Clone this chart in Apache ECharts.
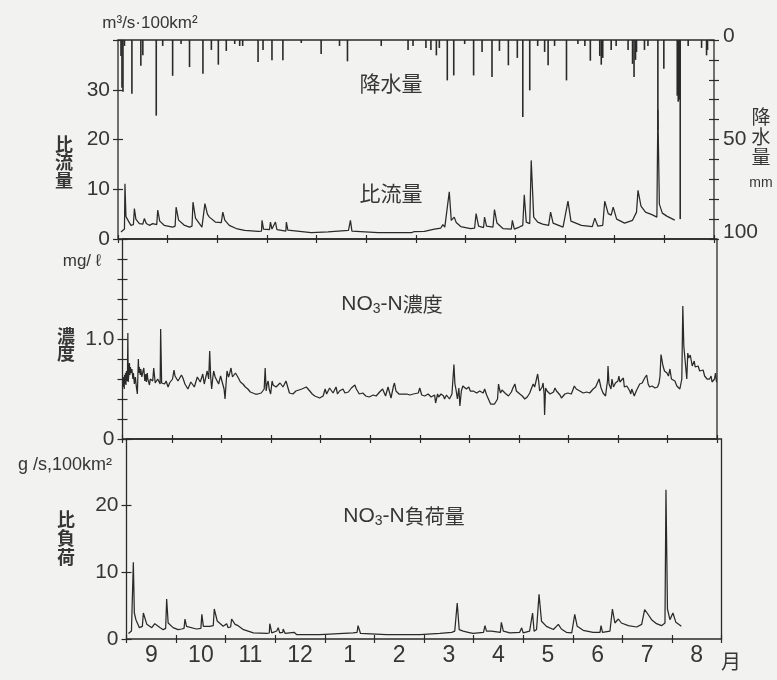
<!DOCTYPE html>
<html>
<head>
<meta charset="utf-8">
<script src="https://cdn.jsdelivr.net/npm/echarts@6/dist/echarts.min.js"></script>
<style>
  html, body { margin: 0; padding: 0; background: #f2f2f0; }
  #chart { width: 777px; height: 680px; }
</style>
</head>
<body>
<div id="chart"></div>
<script>
// Time axis runs in months from 1 September (0) to the end of August (12).
const months = ['9', '10', '11', '12', '1', '2', '3', '4', '5', '6', '7', '8'];

// Daily rainfall, mm  [month position, mm]
const rainfall = [
  [0.06, 8], [0.08, 24], [0.10, 26], [0.13, 3], [0.28, 27], [0.46, 13], [0.50, 7.7], [0.77, 38],
  [0.90, 3], [1.10, 18], [1.27, 2], [1.44, 13.6], [1.71, 17], [1.88, 5], [2.02, 12.4], [2.18, 5.5],
  [2.35, 2], [2.45, 3], [2.51, 3], [2.82, 11], [2.92, 5], [3.10, 10.2], [3.32, 10.2], [3.69, 1.5],
  [4.09, 7], [4.46, 3], [4.62, 10.7], [5.30, 3], [5.84, 5], [5.94, 3], [6.20, 4], [6.30, 5],
  [6.41, 7.7], [6.47, 4], [6.63, 20.3], [6.76, 17.8], [6.98, 2], [7.16, 17.8], [7.33, 6], [7.53, 18.6],
  [7.68, 5.5], [7.86, 12.7], [8.04, 9], [8.15, 38.7], [8.29, 25.3], [8.45, 3], [8.59, 6], [8.66, 12.7],
  [8.79, 3], [9.03, 20.3], [9.26, 2], [9.40, 3], [9.51, 10.4], [9.70, 8], [9.73, 12.4], [9.76, 9],
  [9.93, 5], [10.03, 3], [10.27, 5], [10.36, 12], [10.39, 18.6], [10.42, 10], [10.44, 6], [10.60, 5],
  [10.67, 3], [10.87, 45], [10.99, 14.4], [11.26, 28], [11.28, 31], [11.30, 30], [11.32, 90], [11.48, 3],
  [11.75, 4], [11.85, 7.7], [11.87, 5]
];

// Specific discharge, m3/s per 100 km2
const flow = [
  [0.06, 1.4], [0.13, 2.0], [0.14, 11.1], [0.16, 4.5], [0.18, 4.1], [0.26, 2.75], [0.31, 2.9], [0.33, 6.1],
  [0.36, 4.0], [0.43, 3.1], [0.50, 3.0], [0.53, 4.1], [0.57, 3.1], [0.63, 2.75], [0.70, 3.1], [0.78, 2.9],
  [0.80, 5.8], [0.84, 3.6], [0.93, 2.75], [1.10, 2.4], [1.15, 2.6], [1.17, 6.4], [1.22, 3.8], [1.33, 2.8],
  [1.44, 2.4], [1.49, 2.6], [1.51, 7.4], [1.56, 4.2], [1.69, 2.4], [1.73, 2.7], [1.75, 7.1], [1.80, 5.0],
  [1.84, 4.4], [1.96, 3.4], [2.08, 3.3], [2.11, 5.4], [2.15, 3.8], [2.18, 3.4], [2.24, 2.75], [2.38, 2.1],
  [2.55, 1.74], [2.82, 1.54], [2.89, 1.6], [2.90, 3.75], [2.93, 2.0], [2.95, 1.9], [3.05, 1.9], [3.07, 3.4],
  [3.10, 2.0], [3.12, 1.9], [3.17, 3.4], [3.20, 1.9], [3.22, 1.74], [3.38, 1.6], [3.39, 3.4], [3.42, 1.8],
  [3.45, 1.54], [3.89, 1.27], [4.23, 1.41], [4.64, 1.74], [4.68, 3.75], [4.71, 1.6], [4.73, 1.41], [5.24, 1.27],
  [5.91, 1.27], [5.97, 1.5], [6.17, 1.54], [6.37, 2.0], [6.50, 2.2], [6.54, 2.9], [6.58, 2.4], [6.62, 2.6],
  [6.67, 9.5], [6.71, 3.75], [6.77, 4.4], [6.81, 3.3], [6.90, 2.5], [7.10, 2.1], [7.18, 2.2], [7.21, 5.1],
  [7.26, 2.6], [7.36, 2.3], [7.38, 4.4], [7.42, 2.6], [7.55, 2.4], [7.58, 5.9], [7.63, 3.2], [7.75, 2.1],
  [7.92, 2.0], [7.94, 3.75], [7.98, 2.0], [8.08, 2.4], [8.15, 2.75], [8.18, 8.9], [8.22, 3.4], [8.29, 3.1],
  [8.32, 15.8], [8.37, 4.4], [8.45, 3.4], [8.55, 3.0], [8.67, 2.75], [8.71, 5.4], [8.76, 3.2], [8.96, 2.4],
  [9.06, 7.6], [9.12, 3.6], [9.33, 2.75], [9.55, 2.5], [9.60, 4.2], [9.66, 2.6], [9.76, 2.75], [9.80, 7.6],
  [9.87, 5.1], [9.93, 4.8], [9.97, 6.4], [10.04, 4.0], [10.20, 3.2], [10.36, 3.75], [10.44, 5.4], [10.47, 9.8],
  [10.53, 6.6], [10.62, 5.4], [10.75, 4.9], [10.85, 4.4], [10.87, 26], [10.90, 7.0], [10.96, 5.2], [11.05, 4.6],
  [11.07, 5.0], [11.21, 3.8]
];

// NO3-N concentration, mg/L
const nitrate = [
  [0.01, 0.53], [0.015, 0.62], [0.02, 0.52], [0.03, 0.60], [0.035, 0.50], [0.04, 0.64], [0.05, 0.55], [0.06, 0.66],
  [0.07, 0.54], [0.08, 0.68], [0.09, 0.58], [0.10, 0.62], [0.108, 1.06], [0.115, 0.57], [0.13, 0.66], [0.14, 0.76],
  [0.15, 0.64], [0.16, 0.72], [0.175, 0.66], [0.19, 0.70], [0.21, 0.60], [0.22, 0.66], [0.24, 0.55], [0.26, 0.62],
  [0.28, 0.52], [0.30, 0.45], [0.32, 0.80], [0.33, 0.66], [0.34, 0.72], [0.36, 0.64], [0.37, 0.70], [0.39, 0.62],
  [0.41, 0.67], [0.43, 0.71], [0.45, 0.58], [0.47, 0.65], [0.48, 0.57], [0.50, 0.66], [0.51, 0.60], [0.53, 0.62],
  [0.545, 0.54], [0.56, 0.60], [0.58, 0.60], [0.61, 0.58], [0.63, 0.71], [0.66, 0.56], [0.69, 0.58], [0.71, 0.60],
  [0.76, 0.55], [0.77, 1.10], [0.79, 0.56], [0.85, 0.55], [0.88, 0.58], [0.92, 0.52], [0.95, 0.56], [0.98, 0.56],
  [1.01, 0.60], [1.04, 0.69], [1.06, 0.63], [1.08, 0.63], [1.12, 0.58], [1.15, 0.60], [1.19, 0.64], [1.22, 0.61],
  [1.26, 0.55], [1.29, 0.55], [1.32, 0.50], [1.35, 0.52], [1.38, 0.57], [1.42, 0.55], [1.45, 0.52], [1.49, 0.50],
  [1.51, 0.62], [1.54, 0.63], [1.57, 0.57], [1.59, 0.58], [1.62, 0.65], [1.65, 0.55], [1.67, 0.56], [1.71, 0.68],
  [1.74, 0.60], [1.76, 0.88], [1.78, 0.62], [1.80, 0.50], [1.82, 0.60], [1.84, 0.68], [1.87, 0.62], [1.89, 0.60],
  [1.94, 0.55], [1.98, 0.63], [2.01, 0.61], [2.05, 0.50], [2.07, 0.40], [2.09, 0.55], [2.11, 0.68], [2.14, 0.62],
  [2.16, 0.65], [2.19, 0.71], [2.22, 0.62], [2.25, 0.63], [2.28, 0.66], [2.30, 0.68], [2.34, 0.61], [2.38, 0.57],
  [2.43, 0.55], [2.48, 0.52], [2.53, 0.50], [2.58, 0.47], [2.63, 0.46], [2.68, 0.45], [2.73, 0.45], [2.80, 0.46],
  [2.86, 0.50], [2.88, 0.71], [2.90, 0.48], [2.92, 0.55], [2.94, 0.58], [2.96, 0.50], [2.99, 0.45], [3.02, 0.58],
  [3.04, 0.54], [3.07, 0.55], [3.10, 0.52], [3.14, 0.53], [3.18, 0.56], [3.21, 0.58], [3.24, 0.52], [3.27, 0.55],
  [3.30, 0.58], [3.33, 0.60], [3.37, 0.46], [3.44, 0.45], [3.50, 0.48], [3.54, 0.46], [3.62, 0.50], [3.71, 0.52],
  [3.78, 0.48], [3.83, 0.45], [3.88, 0.43], [3.93, 0.42], [3.98, 0.41], [4.05, 0.43], [4.09, 0.50], [4.12, 0.45],
  [4.15, 0.45], [4.18, 0.51], [4.22, 0.50], [4.25, 0.46], [4.28, 0.48], [4.31, 0.52], [4.34, 0.45], [4.38, 0.48],
  [4.42, 0.50], [4.45, 0.50], [4.49, 0.46], [4.52, 0.46], [4.56, 0.47], [4.59, 0.48], [4.62, 0.51], [4.65, 0.51],
  [4.69, 0.54], [4.72, 0.50], [4.74, 0.50], [4.78, 0.45], [4.81, 0.45], [4.85, 0.46], [4.88, 0.46], [4.91, 0.43],
  [4.94, 0.43], [4.98, 0.42], [5.02, 0.41], [5.06, 0.44], [5.09, 0.45], [5.12, 0.43], [5.16, 0.43], [5.19, 0.47],
  [5.22, 0.48], [5.25, 0.50], [5.28, 0.50], [5.31, 0.43], [5.33, 0.43], [5.36, 0.52], [5.39, 0.51], [5.42, 0.41],
  [5.44, 0.41], [5.47, 0.53], [5.49, 0.56], [5.52, 0.48], [5.55, 0.47], [5.58, 0.45], [5.62, 0.44], [5.66, 0.45],
  [5.70, 0.43], [5.74, 0.45], [5.77, 0.45], [5.80, 0.44], [5.83, 0.43], [5.87, 0.45], [5.90, 0.45], [5.97, 0.46],
  [6.00, 0.51], [6.04, 0.44], [6.07, 0.45], [6.10, 0.43], [6.13, 0.41], [6.17, 0.45], [6.20, 0.46], [6.23, 0.42],
  [6.27, 0.41], [6.30, 0.44], [6.32, 0.36], [6.36, 0.45], [6.38, 0.42], [6.40, 0.41], [6.43, 0.45], [6.45, 0.46],
  [6.48, 0.43], [6.50, 0.40], [6.54, 0.44], [6.57, 0.43], [6.60, 0.40], [6.63, 0.40], [6.65, 0.45], [6.67, 0.46],
  [6.69, 0.745], [6.71, 0.55], [6.73, 0.50], [6.76, 0.40], [6.79, 0.51], [6.81, 0.33], [6.84, 0.48], [6.87, 0.53],
  [6.90, 0.52], [6.94, 0.50], [6.99, 0.52], [7.02, 0.48], [7.04, 0.46], [7.08, 0.48], [7.11, 0.50], [7.15, 0.46],
  [7.18, 0.45], [7.21, 0.48], [7.24, 0.48], [7.28, 0.46], [7.31, 0.50], [7.35, 0.44], [7.38, 0.43], [7.43, 0.35],
  [7.51, 0.35], [7.57, 0.40], [7.59, 0.55], [7.61, 0.50], [7.63, 0.46], [7.66, 0.49], [7.68, 0.50], [7.72, 0.46],
  [7.75, 0.45], [7.79, 0.43], [7.82, 0.41], [7.85, 0.47], [7.88, 0.51], [7.92, 0.55], [7.95, 0.48], [7.98, 0.46],
  [8.02, 0.45], [8.07, 0.43], [8.10, 0.41], [8.12, 0.40], [8.15, 0.41], [8.17, 0.42], [8.22, 0.46], [8.25, 0.50],
  [8.29, 0.55], [8.32, 0.52], [8.34, 0.51], [8.38, 0.65], [8.40, 0.58], [8.42, 0.48], [8.44, 0.48], [8.47, 0.52],
  [8.49, 0.56], [8.51, 0.45], [8.52, 0.24], [8.54, 0.51], [8.57, 0.48], [8.59, 0.48], [8.63, 0.45], [8.66, 0.43],
  [8.70, 0.47], [8.73, 0.51], [8.76, 0.48], [8.79, 0.46], [8.83, 0.44], [8.86, 0.41], [8.90, 0.43], [8.93, 0.45],
  [8.96, 0.46], [8.99, 0.46], [9.03, 0.44], [9.06, 0.45], [9.09, 0.49], [9.12, 0.53], [9.16, 0.50], [9.20, 0.48],
  [9.23, 0.48], [9.27, 0.47], [9.30, 0.46], [9.34, 0.47], [9.37, 0.47], [9.40, 0.46], [9.43, 0.46], [9.47, 0.48],
  [9.50, 0.50], [9.55, 0.52], [9.59, 0.52], [9.62, 0.60], [9.66, 0.51], [9.70, 0.46], [9.75, 0.43], [9.77, 0.51],
  [9.79, 0.58], [9.80, 0.73], [9.82, 0.55], [9.84, 0.55], [9.86, 0.50], [9.88, 0.60], [9.91, 0.52], [9.93, 0.50],
  [9.95, 0.56], [9.97, 0.55], [10.00, 0.58], [10.02, 0.63], [10.04, 0.57], [10.06, 0.58], [10.08, 0.55], [10.11, 0.61],
  [10.13, 0.52], [10.15, 0.50], [10.18, 0.53], [10.21, 0.55], [10.24, 0.48], [10.26, 0.45], [10.28, 0.50], [10.31, 0.50],
  [10.33, 0.43], [10.34, 0.43], [10.37, 0.48], [10.40, 0.48], [10.44, 0.55], [10.49, 0.56], [10.52, 0.58], [10.54, 0.61],
  [10.58, 0.64], [10.61, 0.55], [10.64, 0.52], [10.66, 0.51], [10.69, 0.53], [10.71, 0.55], [10.75, 0.51], [10.78, 0.50],
  [10.80, 0.52], [10.83, 0.56], [10.85, 0.63], [10.87, 0.845], [10.91, 0.73], [10.94, 0.68], [10.96, 0.70], [10.99, 0.66],
  [11.02, 0.63], [11.05, 0.70], [11.08, 0.60], [11.10, 0.60], [11.15, 0.58], [11.19, 0.53], [11.22, 0.53], [11.25, 0.50],
  [11.27, 0.51], [11.29, 0.60], [11.31, 1.33], [11.33, 0.93], [11.35, 0.95], [11.37, 0.94], [11.39, 0.60], [11.41, 0.86],
  [11.43, 0.81], [11.46, 0.84], [11.48, 0.86], [11.50, 0.73], [11.54, 0.78], [11.56, 0.72], [11.59, 0.71], [11.62, 0.73],
  [11.65, 0.68], [11.68, 0.68], [11.72, 0.69], [11.75, 0.63], [11.77, 0.64], [11.80, 0.60], [11.82, 0.58], [11.85, 0.60],
  [11.88, 0.63], [11.90, 0.57], [11.92, 0.57], [11.95, 0.60], [11.97, 0.66], [11.99, 0.57]
];

// NO3-N specific load, g/s per 100 km2
const load = [
  [0.04, 0.83], [0.10, 1.2], [0.13, 1.5], [0.138, 11.5], [0.158, 3.9], [0.19, 2.9], [0.26, 1.7], [0.32, 1.9],
  [0.34, 3.9], [0.41, 2.2], [0.51, 1.7], [0.57, 2.3], [0.68, 1.7], [0.74, 1.4], [0.79, 1.6], [0.81, 6.0],
  [0.84, 2.4], [0.94, 1.7], [1.04, 1.4], [1.11, 1.5], [1.16, 1.6], [1.18, 3.0], [1.21, 1.9], [1.41, 1.5],
  [1.50, 1.6], [1.52, 3.7], [1.55, 1.9], [1.68, 1.9], [1.75, 2.0], [1.77, 4.5], [1.83, 2.7], [1.95, 1.9],
  [2.02, 2.3], [2.05, 1.7], [2.10, 1.8], [2.12, 3.0], [2.19, 2.2], [2.25, 2.0], [2.36, 1.4], [2.56, 0.92],
  [2.83, 0.83], [2.88, 0.9], [2.89, 2.3], [2.93, 0.92], [3.03, 1.2], [3.06, 1.7], [3.09, 0.92], [3.15, 1.0],
  [3.16, 1.5], [3.20, 0.83], [3.38, 1.0], [3.40, 1.3], [3.43, 0.67], [3.90, 0.67], [4.57, 0.92], [4.65, 1.0],
  [4.67, 2.0], [4.72, 0.83], [5.24, 0.67], [5.92, 0.67], [6.32, 0.83], [6.56, 1.0], [6.62, 1.17], [6.66, 1.2],
  [6.67, 5.4], [6.71, 1.4], [6.79, 1.17], [6.89, 1.0], [6.99, 0.83], [7.20, 1.0], [7.23, 2.0], [7.26, 1.17],
  [7.36, 1.17], [7.40, 0.92], [7.54, 1.0], [7.56, 2.5], [7.60, 1.17], [7.73, 0.92], [7.93, 1.0], [7.97, 1.67],
  [8.00, 0.92], [8.13, 1.17], [8.17, 1.2], [8.19, 3.9], [8.22, 1.17], [8.27, 1.42], [8.31, 1.5], [8.32, 6.7],
  [8.37, 2.67], [8.47, 1.9], [8.61, 1.42], [8.71, 2.2], [8.77, 1.5], [8.87, 1.0], [8.98, 0.92], [9.02, 1.0],
  [9.04, 3.7], [9.09, 1.9], [9.21, 1.3], [9.41, 1.0], [9.55, 1.0], [9.57, 2.0], [9.60, 1.0], [9.75, 1.17],
  [9.78, 1.3], [9.80, 4.5], [9.85, 2.4], [9.92, 3.0], [9.98, 2.4], [10.12, 2.0], [10.29, 1.8], [10.39, 2.2],
  [10.45, 4.4], [10.50, 3.9], [10.59, 2.9], [10.69, 2.3], [10.79, 2.0], [10.86, 2.4], [10.88, 22.4], [10.91, 4.5],
  [10.96, 2.9], [11.02, 3.9], [11.08, 2.5], [11.19, 1.9]
];

const INK = '#2a2a2a';
const TEXT = '#363636';
const NUM_FONT = "'Liberation Sans','Arimo',sans-serif";
const JP_FONT = "'Noto Sans CJK JP','Noto Sans CJK SC',sans-serif";

// three stacked panels, each slightly shifted like the printed figure
const panels = [
  { left: 118, right: 63, top: 40, height: 199 },
  { left: 122.5, right: 60, top: 239, height: 200 },
  { left: 126.5, right: 55.5, top: 439, height: 200 }
];

const tickStyle = { color: INK, width: 1.2 };

// each visible axis is paired with a twin whose ticks point inward, so ticks cross the frame
function monthAxis(gridIndex, inside) {
  return {
    type: 'value', gridIndex, min: 0, max: 12, interval: 1, position: 'bottom',
    axisLine: { show: false },
    axisTick: { show: true, inside, length: 4, lineStyle: tickStyle },
    axisLabel: { show: false }, splitLine: { show: false }
  };
}

function valueAxis(gridIndex, opts, inside) {
  return Object.assign({
    type: 'value', gridIndex, position: 'left',
    axisLine: { show: false },
    axisTick: { show: true, inside, length: 5, lineStyle: tickStyle },
    splitLine: { show: false },
    axisLabel: inside ? { show: false } : {
      show: true, color: TEXT, fontFamily: NUM_FONT, fontSize: 21, margin: 8,
      formatter: opts.fmt, rich: opts.rich
    }
  }, opts.base);
}

const flowAxis = { base: { min: 0, max: 40, interval: 10 }, fmt: v => (v >= 40 ? '' : String(v)) };
const rainAxis = {
  base: { min: 0, max: 100, interval: 10, inverse: true, position: 'right' },
  fmt: v => (v === 0 ? '{hi|0}' : v === 100 ? '{lo|100}' : v === 50 ? '50' : ''),
  rich: {
    hi: { fontFamily: NUM_FONT, fontSize: 21, color: TEXT, padding: [0, 0, 8, 0] },
    lo: { fontFamily: NUM_FONT, fontSize: 21, color: TEXT, padding: [0, 0, 14, 0] }
  }
};
const concAxis = {
  base: { min: 0, max: 2, interval: 0.2 },
  fmt: v => (Math.abs(v) < 1e-6 ? '0' : (Math.abs(v - 1) < 1e-6 ? '1.0' : ''))
};
const loadAxis = { base: { min: 0, max: 30, interval: 10 }, fmt: v => (v >= 30 ? '' : String(v)) };

const xAxis = [
  monthAxis(0, false), monthAxis(0, true),
  monthAxis(1, false), monthAxis(1, true),
  monthAxis(2, false), monthAxis(2, true),
  {
    type: 'category', gridIndex: 2, data: months, boundaryGap: true, position: 'bottom',
    axisLine: { show: false }, axisTick: { show: false },
    axisLabel: { color: TEXT, fontFamily: NUM_FONT, fontSize: 23, margin: 5 }
  }
];

const yAxis = [
  valueAxis(0, flowAxis, false), valueAxis(0, flowAxis, true),
  valueAxis(0, rainAxis, false), valueAxis(0, rainAxis, true),
  valueAxis(1, concAxis, false), valueAxis(1, concAxis, true),
  valueAxis(2, loadAxis, false), valueAxis(2, loadAxis, true)
];
yAxis[2].axisLabel.margin = 9;

const lineSeries = (data, xi, yi) => ({
  type: 'line', data, xAxisIndex: xi, yAxisIndex: yi,
  showSymbol: false, symbol: 'none', silent: true, animation: false,
  lineStyle: { color: INK, width: 1.25 }
});

const txt = (x, y, text, font, extra) => ({
  type: 'text', x, y, silent: true,
  style: Object.assign({ text, font, fill: TEXT, align: 'center', verticalAlign: 'middle' }, extra || {})
});

const subRich = (size) => ({
  a: { fontFamily: NUM_FONT, fontSize: size, fill: TEXT, lineHeight: 24 },
  j: { fontFamily: JP_FONT, fontSize: 20, fill: TEXT, lineHeight: 24 },
  s: { fontFamily: NUM_FONT, fontSize: 14, fill: TEXT, verticalAlign: 'bottom', lineHeight: 24 }
});

const chart = echarts.init(document.getElementById('chart'), null, { renderer: 'canvas' });
chart.setOption({
  backgroundColor: '#f2f2f0',
  animation: false,
  grid: panels.map(p => Object.assign({ show: true, borderColor: INK, borderWidth: 1.3, backgroundColor: 'transparent' }, p)),
  xAxis,
  yAxis,
  series: [
    {
      type: 'bar', data: rainfall, xAxisIndex: 0, yAxisIndex: 2, barWidth: 1.6,
      silent: true, animation: false, itemStyle: { color: INK }
    },
    lineSeries(flow, 0, 0),
    lineSeries(nitrate, 2, 4),
    lineSeries(load, 4, 6)
  ],
  graphic: [
    txt(150, 23, 'm³/s·100km²', '17px ' + NUM_FONT),
    txt(391, 83, '降水量', '21px ' + JP_FONT),
    txt(391, 193, '比流量', '21px ' + JP_FONT),
    txt(64, 162, '比\n流\n量', 'bold 18px ' + JP_FONT, { lineHeight: 18 }),
    txt(761, 137, '降\n水\n量', '19px ' + JP_FONT, { lineHeight: 20 }),
    txt(761, 183, 'mm', '14px ' + NUM_FONT),
    txt(82, 261, 'mg/ ℓ', '17px ' + NUM_FONT),
    txt(66, 345, '濃\n度', 'bold 18px ' + JP_FONT, { lineHeight: 17 }),
    {
      type: 'text', x: 392, y: 304, silent: true,
      style: { text: '{a|NO}{s|3}{a|-N}{j|濃度}', rich: subRich(21), align: 'center', verticalAlign: 'middle' }
    },
    txt(65, 465, 'g /s,100km²', '18px ' + NUM_FONT),
    txt(66, 538, '比\n負\n荷', 'bold 18px ' + JP_FONT, { lineHeight: 19 }),
    {
      type: 'text', x: 404, y: 516, silent: true,
      style: { text: '{a|NO}{s|3}{a|-N}{j|負荷量}', rich: subRich(21), align: 'center', verticalAlign: 'middle' }
    },
    txt(731, 661, '月', '20px ' + JP_FONT)
  ]
});
</script>
</body>
</html>
